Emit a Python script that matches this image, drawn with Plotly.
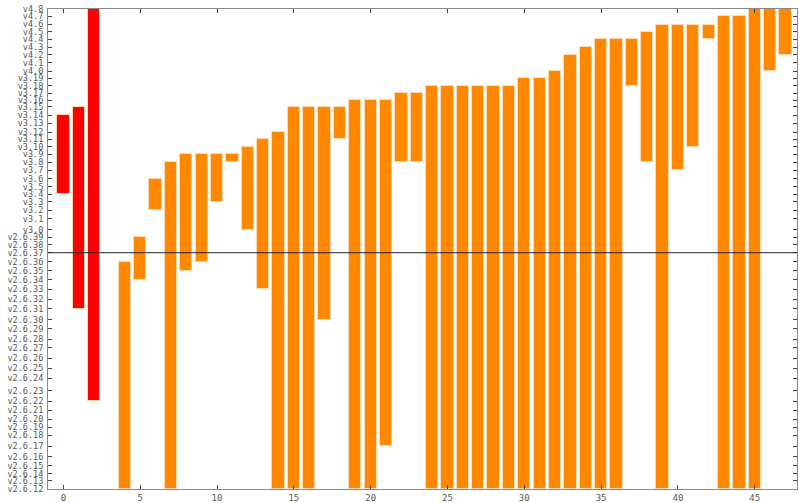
import pandas as pd
import plotly.graph_objects as go

# Kernel versions used as y-axis ticks, with their release dates (y position)
versions = ["v2.6.12", "v2.6.13", "v2.6.14", "v2.6.15", "v2.6.16", "v2.6.17", "v2.6.18",
            "v2.6.19", "v2.6.20", "v2.6.21", "v2.6.22", "v2.6.23", "v2.6.24", "v2.6.25",
            "v2.6.26", "v2.6.27", "v2.6.28", "v2.6.29", "v2.6.30", "v2.6.31", "v2.6.32",
            "v2.6.33", "v2.6.34", "v2.6.35", "v2.6.36", "v2.6.37", "v2.6.38", "v2.6.39",
            "v3.0", "v3.1", "v3.2", "v3.3", "v3.4", "v3.5", "v3.6", "v3.7", "v3.8", "v3.9",
            "v3.10", "v3.11", "v3.12", "v3.13", "v3.14", "v3.15", "v3.16", "v3.17", "v3.18",
            "v3.19", "v4.0", "v4.1", "v4.2", "v4.3", "v4.4", "v4.5", "v4.6", "v4.7", "v4.8"]
release_dates = ["2005-06-17", "2005-08-28", "2005-10-27", "2006-01-02", "2006-03-19", "2006-06-17",
                 "2006-09-19", "2006-11-29", "2007-02-04", "2007-04-25", "2007-07-08", "2007-10-09",
                 "2008-01-24", "2008-04-16", "2008-07-13", "2008-10-09", "2008-12-24", "2009-03-23",
                 "2009-06-09", "2009-09-09", "2009-12-02", "2010-02-24", "2010-05-16", "2010-08-01",
                 "2010-10-20", "2011-01-04", "2011-03-14", "2011-05-18", "2011-07-21", "2011-10-24",
                 "2012-01-04", "2012-03-18", "2012-05-20", "2012-07-21", "2012-09-30", "2012-12-10",
                 "2013-02-18", "2013-04-28", "2013-06-30", "2013-09-02", "2013-11-03", "2014-01-19",
                 "2014-03-30", "2014-06-08", "2014-08-03", "2014-10-05", "2014-12-07", "2015-02-08",
                 "2015-04-12", "2015-06-21", "2015-08-30", "2015-11-01", "2016-01-10", "2016-03-14",
                 "2016-05-15", "2016-07-24", "2016-09-25"]
marker_version = "v2.6.37"

# Red series
red_x = [0, 1, 2]
red_from = ["v3.4", "v2.6.31", "v2.6.22"]
red_to = ["v3.14", "v3.15", "v4.8"]

# Orange series
orange_x = list(range(4, 48))
orange_from = ["v2.6.12", "v2.6.34", "v3.2", "v2.6.12", "v2.6.35", "v2.6.36", "v3.3", "v3.8",
               "v3.0", "v2.6.33", "v2.6.12", "v2.6.12", "v2.6.12", "v2.6.30", "v3.11", "v2.6.12",
               "v2.6.12", "v2.6.17", "v3.8", "v3.8", "v2.6.12", "v2.6.12", "v2.6.12", "v2.6.12",
               "v2.6.12", "v2.6.12", "v2.6.12", "v2.6.12", "v2.6.12", "v2.6.12", "v2.6.12", "v2.6.12",
               "v2.6.12", "v3.18", "v3.8", "v2.6.12", "v3.7", "v3.10", "v4.4", "v2.6.12",
               "v2.6.12", "v2.6.12", "v4.0", "v4.2"]
orange_to = ["v2.6.36", "v2.6.39", "v3.6", "v3.8", "v3.9", "v3.9", "v3.9", "v3.9",
             "v3.10", "v3.11", "v3.12", "v3.15", "v3.15", "v3.15", "v3.15", "v3.16",
             "v3.16", "v3.16", "v3.17", "v3.17", "v3.18", "v3.18", "v3.18", "v3.18",
             "v3.18", "v3.18", "v3.19", "v3.19", "v4.0", "v4.2", "v4.3", "v4.4",
             "v4.4", "v4.4", "v4.5", "v4.6", "v4.6", "v4.6", "v4.6", "v4.7",
             "v4.7", "v4.8", "v4.8", "v4.8"]

x_ticks = [0, 5, 10, 15, 20, 25, 30, 35, 40, 45]

# ---- build ----
dates = pd.to_datetime(release_dates)
day0 = dates[0]
pos = {v: (d - day0).days for v, d in zip(versions, dates)}
tickvals = [pos[v] for v in versions]

def bar_trace(xs, lo, hi, color):
    base = [pos[v] for v in lo]
    length = [pos[h] - pos[l] for l, h in zip(lo, hi)]
    return go.Bar(x=xs, y=length, base=base, width=0.8,
                  marker=dict(color=color, line=dict(color="#ffd9b0", width=1)),
                  showlegend=False)

fig = go.Figure()
fig.add_trace(bar_trace(red_x, red_from, red_to, "#ff0000"))
fig.add_trace(bar_trace(orange_x, orange_from, orange_to, "#ff8800"))

fig.add_shape(type="line", xref="paper", x0=0, x1=1, yref="y",
              y0=pos[marker_version], y1=pos[marker_version],
              line=dict(color="#222222", width=1))

font = dict(family="DejaVu Sans Mono", size=8.5, color="#555555")
fig.update_layout(
    width=799, height=503,
    margin=dict(l=48, r=2, t=9, b=14),
    plot_bgcolor="white", paper_bgcolor="white",
    bargap=0, barmode="overlay",
    font=font,
    xaxis=dict(range=[-1, 47.75], tickvals=x_ticks, ticks="inside", ticklen=4,
               showline=True, linecolor="#888888", linewidth=1, mirror="ticks",
               showgrid=False, zeroline=False, tickfont=dict(size=9, color="#555555",
               family="DejaVu Sans Mono"), automargin=False),
    yaxis=dict(range=[0, pos["v4.8"]], tickvals=tickvals, ticktext=versions,
               ticks="inside", ticklen=4, showline=True, linecolor="#888888", linewidth=1,
               mirror="ticks", showgrid=False, zeroline=False, tickfont=font,
               ticklabelstandoff=2, automargin=False),
)

fig.write_html("out.html", config={"displayModeBar": False},
               post_script="document.body.style.margin='0';")
